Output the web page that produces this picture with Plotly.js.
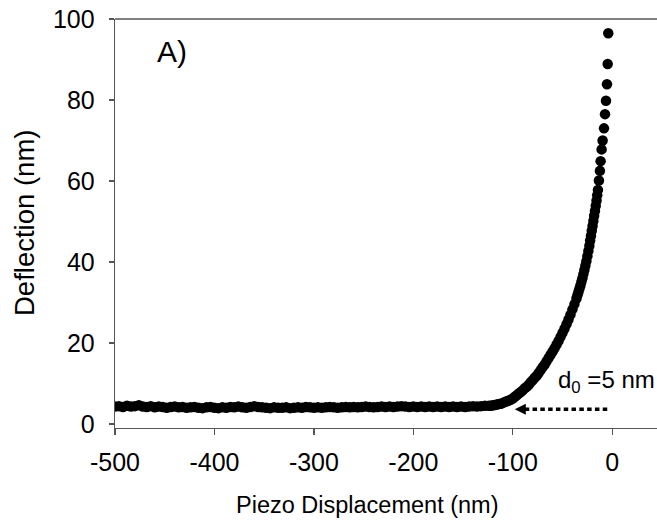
<!DOCTYPE html>
<html>
<head>
<meta charset="utf-8">
<script src="https://cdn.plot.ly/plotly-3.0.1.min.js"></script>
<style>
  html, body { margin: 0; padding: 0; background: #fff; }
  #chart { width: 657px; height: 527px; }
</style>
</head>
<body>
<div id="chart"></div>
<script>
// Approach curve: flat non-contact baseline, then the contact rise near zero.
const baseX = [
  -500,-496,-492,-488,-484,-480,-476,-472,-468,-464,-460,-456,-452,-448,-444,-440,
  -436,-432,-428,-424,-420,-416,-412,-408,-404,-400,-396,-392,-388,-384,-380,-376,
  -372,-368,-364,-360,-356,-352,-348,-344,-340,-336,-332,-328,-324,-320,-316,-312,
  -308,-304,-300,-296,-292,-288,-284,-280,-276,-272,-268,-264,-260,-256,-252,-248,
  -244,-240,-236,-232,-228,-224,-220,-216,-212,-208,-204,-200,-196,-192,-188,-184,
  -180,-176,-172,-168,-164,-160,-156,-152,-148,-144,-140,-136,-132,-128,-124
];
const baseY = [
  4.3,4.4,4.2,4.5,4.3,4.4,4.6,4.3,4.2,4.4,4.1,4.3,4.2,4.0,4.2,4.3,
  4.1,4.2,4.0,4.1,4.2,4.0,3.9,4.1,4.2,4.0,3.9,4.1,4.0,4.2,4.1,4.3,
  4.1,4.0,4.2,4.4,4.2,4.1,4.0,3.9,4.1,4.0,4.0,4.1,3.9,4.0,4.1,4.0,
  4.2,4.1,4.0,4.1,4.0,4.1,4.2,4.1,4.0,4.1,4.2,4.1,4.2,4.1,4.2,4.3,
  4.2,4.1,4.2,4.3,4.2,4.3,4.2,4.3,4.4,4.3,4.2,4.3,4.2,4.3,4.2,4.3,
  4.2,4.3,4.2,4.3,4.2,4.3,4.2,4.3,4.2,4.3,4.4,4.3,4.4,4.5,4.5
];
const riseX = [
  -122,-120,-118,-116,-114,-112,-110,-108,-106,-104,-102,-100,-98,-96,-94,-92,
  -90,-88,-86,-84,-82,-80,-78,-76,-74,-72,-70,-68,-66,-64,-62,-60,
  -58,-56,-54,-52,-50,-48,-46,-44,-42,-40,-38,-36,-35,-34,-33,-32,
  -31,-30,-29,-28,-27,-26,-25,-24,-23,-22.2,-21.4,-20.6,-19.8,-19.0,-18.2,-17.4,
  -16.6,-15.8,-15.1,-14.4,-13.4,-12.4,-11.7,-10.7,-9.7,-8.3,-7.3,-6.3,-5.3,-4.6,-4.0
];
const riseY = [
  4.5,4.6,4.7,4.8,4.9,5.0,5.2,5.4,5.6,5.8,6.0,6.3,6.7,7.1,7.5,7.9,
  8.3,8.8,9.2,9.7,10.3,10.8,11.4,11.9,12.6,13.3,14.0,14.7,15.5,16.3,17.1,17.9,
  18.7,19.6,20.5,21.5,22.5,23.5,24.6,25.8,27.0,28.3,29.6,31.0,31.8,32.6,33.4,34.2,
  35.1,36.0,37.0,38.0,39.1,40.2,41.4,42.7,44.0,45.3,46.5,47.7,48.9,50.1,51.4,52.6,
  53.9,55.2,56.5,57.8,60.1,62.5,64.9,67.8,70.0,73.0,76.5,79.8,83.9,88.9,96.5
];

const xTicks = [-500, -400, -300, -200, -100, 0];
const yTicks = [0, 20, 40, 60, 80, 100];

// Contact point marker: d0 read at the tip of the dashed arrow
const d0Label = 'd<sub>0</sub> =5 nm';
const arrowTipX = -98, arrowTailX = -3.5, arrowY = 3.6;

const FONT = 'Liberation Sans, Arial, Helvetica, sans-serif';
const AXIS = '#555555';

const trace = {
  x: baseX.concat(riseX),
  y: baseY.concat(riseY),
  type: 'scatter',
  mode: 'markers',
  marker: { symbol: 'circle', size: 10.5, color: '#000000', line: { width: 0 } },
  hoverinfo: 'skip',
  showlegend: false
};

const layout = {
  width: 657,
  height: 527,
  margin: { l: 115, r: 0, t: 19, b: 99, pad: 0 },
  paper_bgcolor: '#ffffff',
  plot_bgcolor: '#ffffff',
  font: { family: FONT, color: '#000000' },
  xaxis: {
    range: [-500, 45],
    tickvals: xTicks,
    ticktext: xTicks.map(String),
    ticks: 'outside', ticklen: 6, tickwidth: 1.3, tickcolor: AXIS,
    showline: true, linecolor: AXIS, linewidth: 1.3,
    showgrid: false, zeroline: false,
    tickfont: { size: 25, family: FONT, color: '#000' },
    ticklabelstandoff: 6
  },
  yaxis: {
    range: [-1, 100],
    tickvals: yTicks,
    ticktext: yTicks.map(String),
    ticks: 'outside', ticklen: 5, tickwidth: 1.3, tickcolor: AXIS,
    showline: true, linecolor: AXIS, linewidth: 1.3,
    showgrid: false, zeroline: false,
    tickfont: { size: 25, family: FONT, color: '#000' },
    ticklabelstandoff: 9
  },
  shapes: [
    { type: 'line', xref: 'paper', yref: 'paper', x0: 0, x1: 1, y0: 1, y1: 1,
      line: { color: AXIS, width: 1.3 } },
    { type: 'line', xref: 'x', yref: 'y', x0: arrowTipX + 10, x1: arrowTailX, y0: arrowY, y1: arrowY,
      line: { color: '#000', width: 3.5, dash: '4.5px,3.3px' } }
  ],
  annotations: [
    { x: arrowTipX, y: arrowY, xref: 'x', yref: 'y', text: '', showarrow: true,
      ax: 11, ay: 0, arrowhead: 2, arrowsize: 1, arrowwidth: 2.2, arrowcolor: '#000' },
    { x: (172 - 115) / 542, y: (428 - 52) / 409, xref: 'paper', yref: 'paper',
      text: 'A)', showarrow: false, xanchor: 'center', yanchor: 'middle',
      font: { size: 30, family: FONT, color: '#000' } },
    { x: (556 - 115) / 542, y: (428 - 381) / 409, xref: 'paper', yref: 'paper',
      text: d0Label, showarrow: false, xanchor: 'left', yanchor: 'middle',
      font: { size: 24, family: FONT, color: '#000' } },
    { x: (367 - 115) / 542, y: -(505 - 428) / 409, xref: 'paper', yref: 'paper',
      text: 'Piezo Displacement (nm)', showarrow: false, xanchor: 'center', yanchor: 'middle',
      font: { size: 23.5, family: FONT, color: '#000' } },
    { x: -(115 - 24) / 542, y: (428 - 223) / 409, xref: 'paper', yref: 'paper',
      text: 'Deflection (nm)', showarrow: false, textangle: -90, xanchor: 'center', yanchor: 'middle',
      font: { size: 27.5, family: FONT, color: '#000' } }
  ]
};

Plotly.newPlot('chart', [trace], layout, { displayModeBar: false, staticPlot: true });
</script>
</body>
</html>
